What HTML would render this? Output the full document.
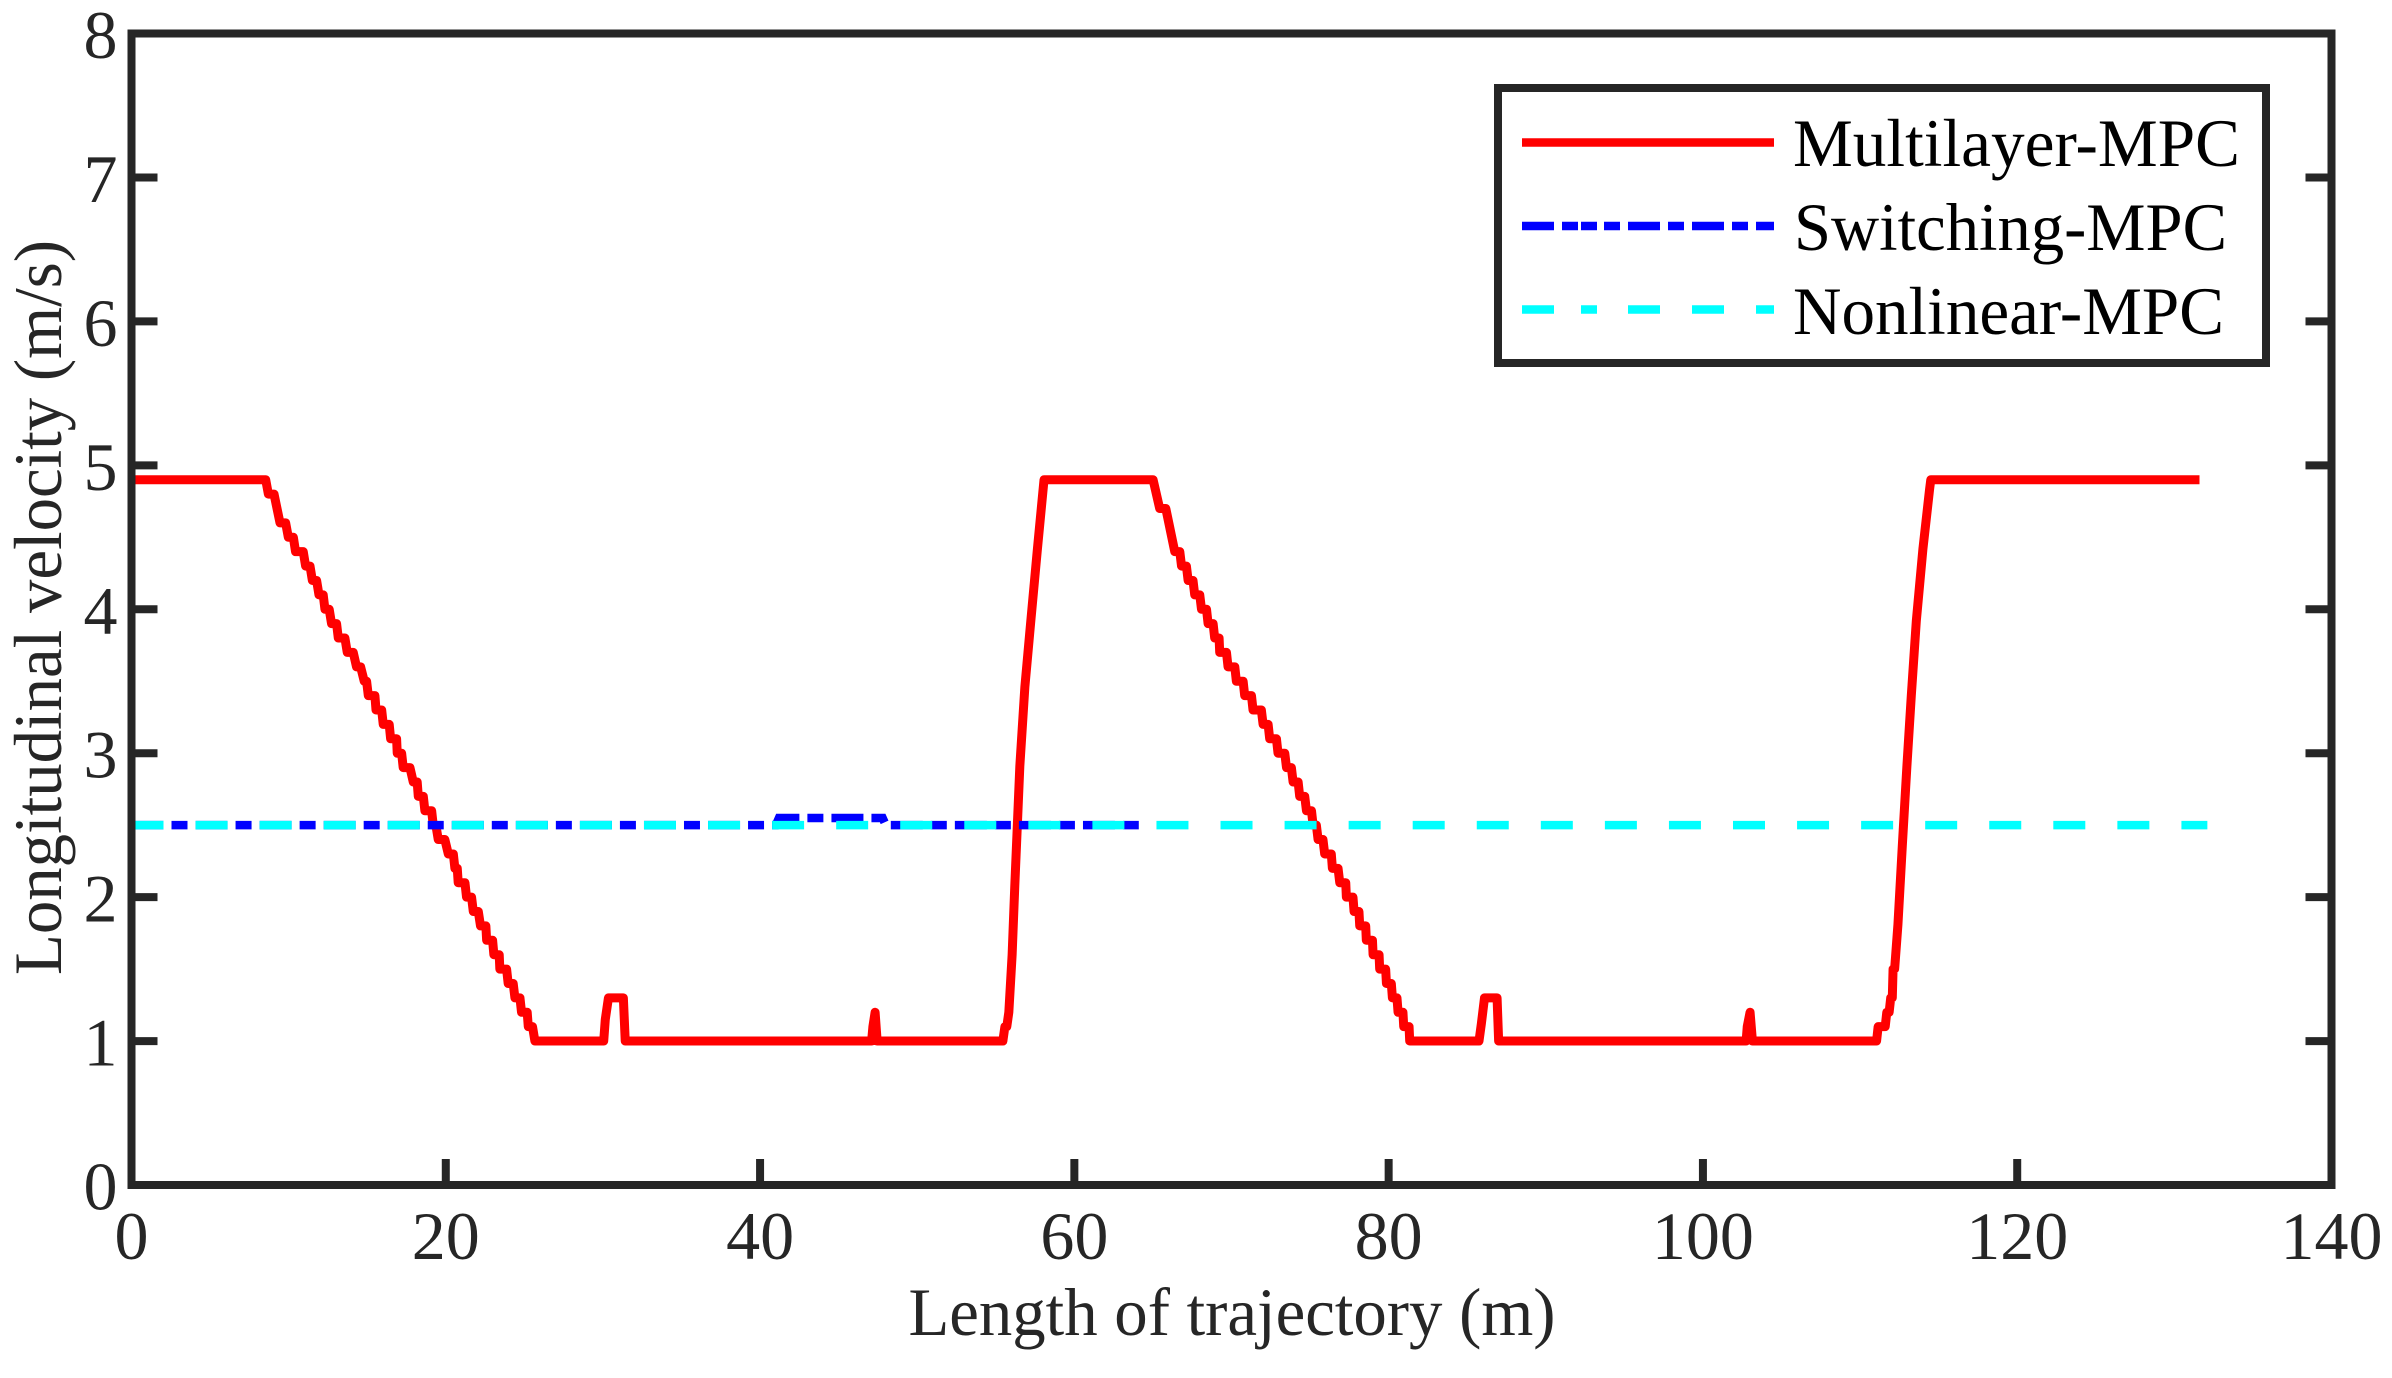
<!DOCTYPE html>
<html lang="en">
<head>
<meta charset="utf-8">
<title>Longitudinal velocity vs length of trajectory</title>
<style>
  html, body { margin: 0; padding: 0; background: #ffffff; }
  svg { display: block; }
  text { font-family: "Liberation Serif", "Times New Roman", serif; font-size: 68px; fill: #262626; }
  .legend-text { fill: #000000; }
</style>
</head>
<body>
<svg id="chart" xmlns="http://www.w3.org/2000/svg" width="2392" height="1378" viewBox="0 0 2392 1378">
  <rect x="0" y="0" width="2392" height="1378" fill="#ffffff"/>
  <g id="series"></g>
  <g id="axes">
    <rect x="131.5" y="33.5" width="2200" height="1151.5" fill="none" stroke="#262626" stroke-width="8"/>
  </g>
  <text x="908.5" y="1335" textLength="647" lengthAdjust="spacingAndGlyphs">Length of trajectory (m)</text>
  <text transform="translate(61 975) rotate(-90)" x="0" y="0" textLength="735" lengthAdjust="spacingAndGlyphs">Longitudinal velocity (m/s)</text>
  <g>
    <rect x="1498" y="88" width="768" height="275" fill="#ffffff" stroke="#262626" stroke-width="8"/>
    <line x1="1522" y1="142.5" x2="1774" y2="142.5" stroke="#ff0000" stroke-width="8.5"/>
    <line x1="1522" y1="226" x2="1774" y2="226" stroke="#0000ff" stroke-width="8.5" stroke-dasharray="32 8 16 3 16 7 16 8 32 8 16 8 32 8 16 8 18 8"/>
    <line x1="1522" y1="309.5" x2="1774" y2="309.5" stroke="#00ffff" stroke-width="8.5" stroke-dasharray="32 27 16 31 32 32 32 32 18 8"/>
    <text class="legend-text" x="1793" y="166" textLength="447" lengthAdjust="spacingAndGlyphs">Multilayer-MPC</text>
    <text class="legend-text" x="1794" y="250" textLength="433" lengthAdjust="spacingAndGlyphs">Switching-MPC</text>
    <text class="legend-text" x="1793" y="334" textLength="431" lengthAdjust="spacingAndGlyphs">Nonlinear-MPC</text>
  </g>
</svg>
<script>
const xTicks = [0, 20, 40, 60, 80, 100, 120, 140];
const yTicks = [0, 1, 2, 3, 4, 5, 6, 7, 8];

const redX = [
  0, 8.54, 8.71, 9.07, 9.45, 9.81, 9.98, 10.30, 10.44, 10.93, 11.08, 11.36, 11.51, 11.78, 11.93, 12.20,
  12.31, 12.58, 12.73, 13.05, 13.16, 13.58, 13.73, 14.11, 14.32, 14.58, 14.81, 14.96, 15.07, 15.49,
  15.56, 15.92, 16.02, 16.40, 16.49, 16.87, 16.91, 17.19, 17.29, 17.72, 17.93, 18.18, 18.25, 18.57,
  18.67, 19.10, 19.20, 19.37, 19.52, 19.94, 20.16, 20.48, 20.58, 20.73, 20.79, 21.22, 21.32, 21.64,
  21.75, 22.07, 22.21, 22.55, 22.60, 22.98, 23.06, 23.40, 23.44, 23.87, 23.97, 24.29, 24.40, 24.72,
  24.82, 25.18, 25.25, 25.52, 25.67,
  30.05, 30.15, 30.35, 31.30, 31.42, 47.10, 47.18, 47.32, 47.45, 55.45, 55.58, 55.70, 55.83, 56.04, 56.21, 56.53, 56.85, 57.23, 57.65, 58.07,
  65.01, 65.43, 65.82, 66.39, 66.71, 66.82, 67.13, 67.24, 67.55, 67.66, 67.98, 68.09, 68.41, 68.51, 68.83,
  68.93, 69.21, 69.25, 69.68, 69.78, 70.21, 70.31, 70.74, 70.84, 71.27, 71.37, 71.90, 72.01, 72.33,
  72.43, 72.86, 72.96, 73.39, 73.50, 73.81, 73.92, 74.24, 74.34, 74.66, 74.77, 75.09, 75.19, 75.40,
  75.51, 75.82, 75.93, 76.35, 76.42, 76.78, 76.89, 77.27, 77.31, 77.73, 77.80, 78.11, 78.16, 78.54,
  78.58, 78.97, 79.01, 79.39, 79.43, 79.81, 79.86, 80.17, 80.24, 80.53, 80.60, 80.91, 80.96, 81.30, 81.34,
  85.75, 85.90, 86.10, 86.90, 87.00, 102.75, 102.82, 103.00, 103.15, 111.05, 111.15, 111.60, 111.70, 111.85, 111.95, 112.05, 112.10, 112.20, 112.41, 112.69, 112.98, 113.26, 113.58, 114.00, 114.42, 114.50,
  131.6
];
const redY = [
  4.9, 4.9, 4.8, 4.8, 4.6, 4.6, 4.5, 4.5, 4.4, 4.4, 4.3, 4.3, 4.2, 4.2, 4.1, 4.1,
  4.0, 4.0, 3.9, 3.9, 3.8, 3.8, 3.7, 3.7, 3.6, 3.6, 3.5, 3.5, 3.4, 3.4,
  3.3, 3.3, 3.2, 3.2, 3.1, 3.1, 3.0, 3.0, 2.9, 2.9, 2.8, 2.8, 2.7, 2.7,
  2.6, 2.6, 2.5, 2.5, 2.4, 2.4, 2.3, 2.3, 2.2, 2.2, 2.1, 2.1, 2.0, 2.0,
  1.9, 1.9, 1.8, 1.8, 1.7, 1.7, 1.6, 1.6, 1.5, 1.5, 1.4, 1.4, 1.3, 1.3,
  1.2, 1.2, 1.1, 1.1, 1.0,
  1.0, 1.15, 1.3, 1.3, 1.0, 1.0, 1.1, 1.2, 1.0, 1.0, 1.1, 1.1, 1.2, 1.6, 2.08, 2.91, 3.46, 3.92, 4.42, 4.9,
  4.9, 4.7, 4.7, 4.4, 4.4, 4.3, 4.3, 4.2, 4.2, 4.1, 4.1, 4.0, 4.0, 3.9, 3.9,
  3.8, 3.8, 3.7, 3.7, 3.6, 3.6, 3.5, 3.5, 3.4, 3.4, 3.3, 3.3, 3.2, 3.2,
  3.1, 3.1, 3.0, 3.0, 2.9, 2.9, 2.8, 2.8, 2.7, 2.7, 2.6, 2.6, 2.5, 2.5,
  2.4, 2.4, 2.3, 2.3, 2.2, 2.2, 2.1, 2.1, 2.0, 2.0, 1.9, 1.9, 1.8, 1.8,
  1.7, 1.7, 1.6, 1.6, 1.5, 1.5, 1.4, 1.4, 1.3, 1.3, 1.2, 1.2, 1.1, 1.1, 1.0,
  1.0, 1.12, 1.3, 1.3, 1.0, 1.0, 1.1, 1.2, 1.0, 1.0, 1.1, 1.1, 1.2, 1.2, 1.3, 1.3, 1.5, 1.5, 1.81, 2.36, 2.91, 3.40, 3.92, 4.42, 4.83, 4.9,
  4.9
];
const blueX = [0, 41.0, 41.2, 47.8, 48.0, 64.1];
const blueY = [2.5, 2.5, 2.55, 2.55, 2.5, 2.5];
const cyanX = [0, 132.1];
const cyanY = [2.5, 2.5];

const NS = 'http://www.w3.org/2000/svg';
const X0 = 131.5, X1 = 2331.5, Y0 = 1185, Y1 = 33.5;
const XMAX = 140, YMAX = 8;
function sx(v) { return X0 + (X1 - X0) * v / XMAX; }
function sy(v) { return Y0 + (Y1 - Y0) * v / YMAX; }
function pointsOf(xs, ys) {
  return xs.map(function (x, i) { return sx(x).toFixed(2) + ',' + sy(ys[i]).toFixed(2); }).join(' ');
}

const seriesLayer = document.getElementById('series');
const axesLayer = document.getElementById('axes');
const svgRoot = document.getElementById('chart');

const redLine = document.createElementNS(NS, 'polyline');


redLine.setAttribute('points', pointsOf(redX, redY));
redLine.setAttribute('fill', 'none');
redLine.setAttribute('stroke', '#ff0000');
redLine.setAttribute('stroke-width', '9');
redLine.setAttribute('stroke-linejoin', 'round');
seriesLayer.appendChild(redLine);

const blueLine = document.createElementNS(NS, 'polyline');


blueLine.setAttribute('points', pointsOf(blueX, blueY));
blueLine.setAttribute('fill', 'none');
blueLine.setAttribute('stroke', '#0000ff');
blueLine.setAttribute('stroke-width', '8.5');
blueLine.setAttribute('stroke-dasharray', '32 8 16 8.06');
seriesLayer.appendChild(blueLine);

const cyanLine = document.createElementNS(NS, 'polyline');


cyanLine.setAttribute('points', pointsOf(cyanX, cyanY));
cyanLine.setAttribute('fill', 'none');
cyanLine.setAttribute('stroke', '#00ffff');
cyanLine.setAttribute('stroke-width', '8.5');
cyanLine.setAttribute('stroke-dasharray', '32 32.06');
seriesLayer.appendChild(cyanLine);

const TICK = 26;
function addTick(x1, y1, x2, y2, name) {
  const t = document.createElementNS(NS, 'line');
  
  
  t.setAttribute('x1', x1);
  t.setAttribute('y1', y1);
  t.setAttribute('x2', x2);
  t.setAttribute('y2', y2);
  t.setAttribute('stroke', '#262626');
  t.setAttribute('stroke-width', '8');
  axesLayer.appendChild(t);
}
function addLabel(x, y, anchor, str, name) {
  const t = document.createElementNS(NS, 'text');
  
  
  t.setAttribute('x', x);
  t.setAttribute('y', y);
  t.setAttribute('text-anchor', anchor);
  t.textContent = str;
  svgRoot.appendChild(t);
}
xTicks.forEach(function (v) {
  const x = sx(v);
  if (v !== 0 && v !== XMAX) {
    addTick(x, Y0, x, Y0 - TICK, 'x-tick-bottom');
  }
  addLabel(x, 1259, 'middle', String(v), 'x-tick-label');
});
yTicks.forEach(function (v) {
  const y = sy(v);
  if (v !== 0 && v !== YMAX) {
    addTick(X0, y, X0 + TICK, y, 'y-tick-left');
    addTick(X1, y, X1 - TICK, y, 'y-tick-right');
  }
  addLabel(117.5, y + 24.5, 'end', String(v), 'y-tick-label');
});
</script>
</body>
</html>
